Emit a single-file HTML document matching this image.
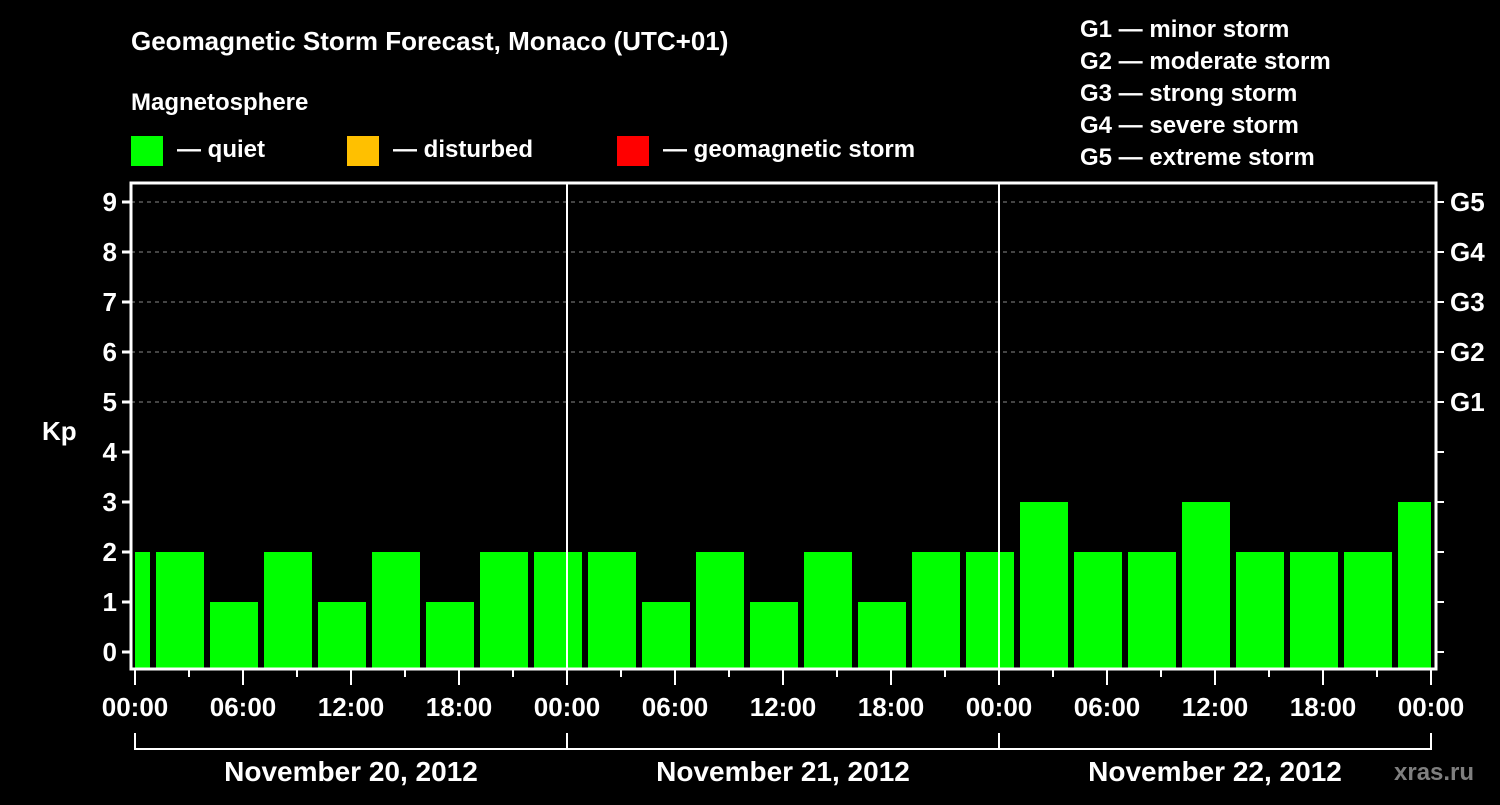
<!DOCTYPE html>
<html><head><meta charset="utf-8"><style>
body{margin:0;background:#000;width:1500px;height:800px;overflow:hidden}
svg text{font-family:"Liberation Sans",Arial,sans-serif;font-weight:bold;fill:#fff}
</style></head><body>
<svg id="c" width="1500" height="800">
<text x="131" y="50" font-size="26">Geomagnetic Storm Forecast, Monaco (UTC+01)</text>
<text x="131" y="110" font-size="24">Magnetosphere</text>
<rect x="131" y="136" width="32" height="30" fill="#00ff00"/>
<text x="177" y="157" font-size="24">— quiet</text>
<rect x="347" y="136" width="32" height="30" fill="#ffc000"/>
<text x="393" y="157" font-size="24">— disturbed</text>
<rect x="617" y="136" width="32" height="30" fill="#ff0000"/>
<text x="663" y="157" font-size="24">— geomagnetic storm</text>
<g font-size="24">
<text x="1080" y="37">G1 — minor storm</text>
<text x="1080" y="69">G2 — moderate storm</text>
<text x="1080" y="101">G3 — strong storm</text>
<text x="1080" y="133">G4 — severe storm</text>
<text x="1080" y="165">G5 — extreme storm</text>
</g>
<text x="42" y="440" font-size="26">Kp</text>
<text x="1394" y="780" font-size="24" fill="#888" style="fill:#7f7f7f">xras.ru</text>
<g id="plot"></g>
</svg>
<script>
const kpValues=[2,2,1,2,1,2,1,2,2,2,1,2,1,2,1,2,2,3,2,2,3,2,2,2,3];
const barStartHours=[-2,1,4,7,10,13,16,19,22,25,28,31,34,37,40,43,46,49,52,55,58,61,64,67,70];
const yTicks=[0,1,2,3,4,5,6,7,8,9];
const gLabels=["G1","G2","G3","G4","G5"];
const gLevels=[5,6,7,8,9];
const timeLabels=["00:00","06:00","12:00","18:00","00:00","06:00","12:00","18:00","00:00","06:00","12:00","18:00","00:00"];
const dayLabels=["November 20, 2012","November 21, 2012","November 22, 2012"];
const NS="http://www.w3.org/2000/svg";
const L=131,R=1436,T=183,B=669,X0=135;
const x=h=>X0+h*18;
const y=v=>652-v*50;
const g=document.getElementById('plot');
function mk(t,a,p){const e=document.createElementNS(NS,t);for(const k in a)e.setAttribute(k,a[k]);(p||g).appendChild(e);return e;}
// grid
yTicks.forEach(v=>{
 if(v>=5){const e=mk('line',{x1:L,x2:R,y1:y(v),y2:y(v),stroke:'#888','stroke-dasharray':'4,4','stroke-width':1});
 
 }
});
// bars
kpValues.forEach((v,i)=>{
 let x1=Math.max(x(barStartHours[i])+3,X0),x2=Math.min(x(barStartHours[i]+3)-3,R-5);
 const e=mk('rect',{x:x1,y:y(v),width:x2-x1,height:B-y(v),fill:v>=5?'#ff0000':(v>=4?'#ffc000':'#00ff00')});
 
 
});
// day separators
[1,2].forEach(d=>{const e=mk('line',{x1:x(d*24),x2:x(d*24),y1:T,y2:B,stroke:'#fff','stroke-width':2});
 
 });
const fr=mk('rect',{x:L,y:T,width:R-L,height:B-T,fill:'none',stroke:'#fff','stroke-width':3});


yTicks.forEach(v=>{
 mk('line',{x1:122,x2:L,y1:y(v),y2:y(v),stroke:'#fff','stroke-width':3});
 mk('line',{x1:R,x2:1444,y1:y(v),y2:y(v),stroke:'#fff','stroke-width':2});
 const t=mk('text',{x:117,y:y(v)+9,'font-size':26,'text-anchor':'end'});t.textContent=v;
 
 
});
gLabels.forEach((s,i)=>{const t=mk('text',{x:1450,y:y(gLevels[i])+9,'font-size':26});t.textContent=s;
 
 });
for(let h=0;h<=72;h+=3){mk('line',{x1:x(h),x2:x(h),y1:B,y2:h%6==0?685:677,stroke:'#fff','stroke-width':2});}
timeLabels.forEach((s,i)=>{const t=mk('text',{x:x(i*6),y:716,'font-size':26,'text-anchor':'middle'});t.textContent=s;
 
 });
mk('line',{x1:x(0),x2:x(72),y1:749,y2:749,stroke:'#fff','stroke-width':2});
for(let d=0;d<=3;d++)mk('line',{x1:x(d*24),x2:x(d*24),y1:733,y2:750,stroke:'#fff','stroke-width':2});
dayLabels.forEach((s,i)=>{const t=mk('text',{x:x(i*24+12),y:781,'font-size':28,'text-anchor':'middle'});t.textContent=s;
 
 });
</script>
</body></html>
